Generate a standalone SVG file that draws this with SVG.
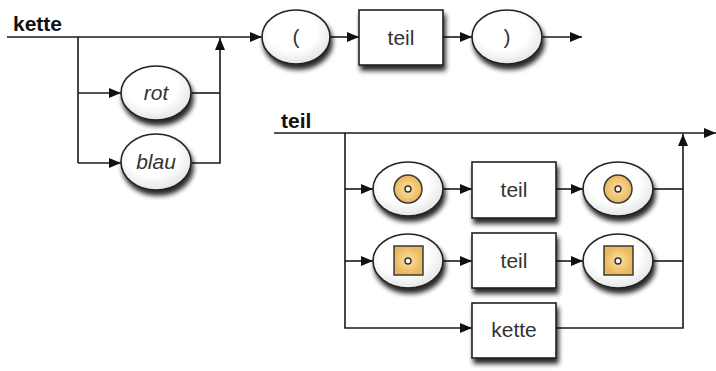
<svg xmlns="http://www.w3.org/2000/svg" width="716" height="371" viewBox="0 0 716 371">
  <style>
    .line { fill: none; stroke: #1a1a1a; stroke-width: 1.6; }
    .arrow { marker-end: url(#head); }
    .term { fill: url(#shade); stroke: #222; stroke-width: 1.6; filter: url(#drop); }
    .box { fill: #ffffff; stroke: #222; stroke-width: 1.6; filter: url(#drop); }
    .title { font-family: "Liberation Sans Narrow", "Liberation Sans", Arial, sans-serif; font-size: 21px; font-weight: bold; fill: #111; }
    .lbl { font-family: "Liberation Sans Narrow", "Liberation Sans", Arial, sans-serif; font-size: 21px; fill: #333; text-anchor: middle; }
    .it { font-style: italic; }
    .tok { fill: url(#amber); stroke: #3a3a3a; stroke-width: 1.5; }
    .dot { fill: #fff8e8; stroke: #333; stroke-width: 1.4; }
  </style>
  <defs>
    <marker id="head" viewBox="0 0 12 10" refX="12" refY="5" markerWidth="12" markerHeight="10" markerUnits="userSpaceOnUse" orient="auto">
      <path d="M0,0 L12,5 L0,10 z" fill="#111"/>
    </marker>
    <radialGradient id="shade" cx="0.45" cy="0.4" r="0.65">
      <stop offset="0.55" stop-color="#ffffff"/>
      <stop offset="1" stop-color="#e0e0e0"/>
    </radialGradient>
    <radialGradient id="amber" cx="0.5" cy="0.5" r="0.5">
      <stop offset="0.3" stop-color="#f8d58e"/>
      <stop offset="1" stop-color="#e9b65c"/>
    </radialGradient>
    <filter id="drop" x="-30%" y="-30%" width="160%" height="170%">
      <feGaussianBlur in="SourceAlpha" stdDeviation="2.5"/>
      <feOffset dx="2" dy="5" result="b"/>
      <feComponentTransfer><feFuncA type="linear" slope="0.85"/></feComponentTransfer>
      <feMerge><feMergeNode/><feMergeNode in="SourceGraphic"/></feMerge>
    </filter>
  </defs>

  <rect width="716" height="371" fill="#ffffff"/>

  <!-- rule titles -->
  <text class="title" x="13" y="31">kette</text>
  <text class="title" x="281" y="128">teil</text>

  <!-- connectors -->
  <g id="connectors">
    <!-- kette -->
    <path class="line arrow" d="M7 37 H262"/>
    <path class="line" d="M78 37 V163"/>
    <path class="line arrow" d="M78 93 H121"/>
    <path class="line arrow" d="M78 163 H121"/>
    <path class="line" d="M192 93 H220"/>
    <path class="line arrow" d="M192 163 H220 V38"/>
    <path class="line arrow" d="M330 37 H359"/>
    <path class="line arrow" d="M443 37 H472"/>
    <path class="line arrow" d="M542 37 H582"/>
    <!-- teil -->
    <path class="line arrow" d="M274 133 H716"/>
    <path class="line arrow" d="M345 133 V328 H472"/>
    <path class="line arrow" d="M345 189 H373"/>
    <path class="line arrow" d="M345 261 H373"/>
    <path class="line arrow" d="M443 189 H472"/>
    <path class="line arrow" d="M556 189 H583"/>
    <path class="line" d="M653 189 H683"/>
    <path class="line arrow" d="M443 261 H472"/>
    <path class="line arrow" d="M556 261 H583"/>
    <path class="line" d="M653 261 H683"/>
    <path class="line arrow" d="M556 328 H683 V134"/>
  </g>

  <!-- kette nodes -->
  <g id="rot">
    <ellipse class="term" cx="156" cy="93" rx="35" ry="27"/>
    <text class="lbl it" x="156" y="100">rot</text>
  </g>
  <g id="blau">
    <ellipse class="term" cx="156" cy="162" rx="35" ry="28"/>
    <text class="lbl it" x="156" y="169">blau</text>
  </g>
  <g id="open-paren">
    <ellipse class="term" cx="296" cy="37" rx="34" ry="27"/>
    <text class="lbl" x="296" y="44">(</text>
  </g>
  <g id="teil-ref">
    <rect class="box" x="359" y="10" width="84" height="55"/>
    <text class="lbl" x="401" y="45">teil</text>
  </g>
  <g id="close-paren">
    <ellipse class="term" cx="507" cy="37" rx="35" ry="27"/>
    <text class="lbl" x="507" y="44">)</text>
  </g>

  <!-- teil nodes -->
  <g id="circle-open">
    <ellipse class="term" cx="408" cy="189" rx="35" ry="27"/>
    <circle class="tok" cx="408" cy="189" r="14"/>
    <circle class="dot" cx="408" cy="189" r="3"/>
  </g>
  <g id="teil-ref-1">
    <rect class="box" x="472" y="162" width="84" height="56"/>
    <text class="lbl" x="514" y="197">teil</text>
  </g>
  <g id="circle-close">
    <ellipse class="term" cx="618" cy="189" rx="35" ry="27"/>
    <circle class="tok" cx="618" cy="189" r="14"/>
    <circle class="dot" cx="618" cy="189" r="3"/>
  </g>
  <g id="square-open">
    <ellipse class="term" cx="408" cy="261" rx="35" ry="27"/>
    <rect class="tok" x="394" y="246" width="29" height="29"/>
    <circle class="dot" cx="408" cy="261" r="3"/>
  </g>
  <g id="teil-ref-2">
    <rect class="box" x="472" y="233" width="84" height="55"/>
    <text class="lbl" x="514" y="268">teil</text>
  </g>
  <g id="square-close">
    <ellipse class="term" cx="618" cy="261" rx="35" ry="27"/>
    <rect class="tok" x="604" y="246" width="29" height="29"/>
    <circle class="dot" cx="618" cy="261" r="3"/>
  </g>
  <g id="kette-ref">
    <rect class="box" x="472" y="303" width="84" height="55"/>
    <text class="lbl" x="514" y="337">kette</text>
  </g>
</svg>
